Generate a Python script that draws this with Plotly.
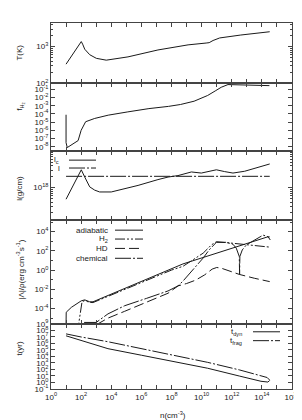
import plotly.graph_objects as go

# ---------------- data (log10 values) ----------------
# panel 1: temperature
T_logn = [1.0, 1.5, 1.9, 2.01, 2.1, 2.24, 2.57, 3.01, 3.67, 5.11, 7.1, 7.77, 9.1, 10.3, 10.5, 10.76, 11.2, 12.6, 14.52]
T_logT = [2.52, 2.83, 3.08, 3.14, 3.07, 2.93, 2.78, 2.68, 2.63, 2.72, 2.91, 2.96, 3.05, 3.10, 3.11, 3.17, 3.24, 3.32, 3.41]

# panel 2: H2 fraction
f_logn = [1.0, 1.0, 1.08, 1.8, 2.0, 2.3, 2.9, 3.8, 5.1, 6.5, 7.8, 8.6, 9.5, 10.0, 10.4, 10.9, 11.3, 11.75, 12.5, 13.5, 14.5]
f_logf = [-4.1, -7.5, -8.1, -7.25, -6.0, -4.95, -4.55, -4.15, -3.75, -3.35, -3.08, -2.85, -2.45, -2.1, -1.75, -1.2, -0.75, -0.42, -0.45, -0.5, -0.55]

# panel 3: lengths
lc_logn = [1.0, 1.5, 2.01, 2.24, 2.57, 2.9, 3.23, 4.0, 5.78, 7.1, 7.77, 8.43, 9.32, 9.98, 10.98, 11.53, 12.08, 12.86, 13.75, 14.52]
lc_log = [17.68, 18.08, 18.49, 18.29, 18.02, 17.93, 17.88, 17.88, 18.06, 18.22, 18.29, 18.33, 18.43, 18.40, 18.49, 18.44, 18.40, 18.45, 18.56, 18.65]
l_logn = [1.0, 14.52]
l_log = [18.31, 18.31]

# panel 4: heating / cooling rates
ad_logn = [1.0, 1.01, 1.35, 1.79, 2.01, 2.24, 2.57, 2.79, 6.33, 8.76, 14.41, 14.52]
ad_log = [-5.7, -4.39, -3.88, -3.44, -3.2, -3.1, -3.3, -3.3, -0.97, 0.64, 3.47, 3.45]
h2_logn = [1.75, 2.06, 2.24, 2.57, 2.79, 6.33, 8.0, 8.76, 9.65, 10.1, 10.65, 10.98, 12.08, 13.19, 14.52]
h2_log = [-6.5, -3.3, -3.17, -3.37, -3.38, -1.05, 0.0, 0.39, 1.25, 1.76, 2.62, 2.95, 2.79, 2.62, 2.39]
hd_logn = [3.0, 3.78, 4.89, 6.33, 7.77, 8.43, 9.0, 9.6, 10.2, 10.7, 11.0, 11.3, 12.5, 13.5, 14.52]
hd_log = [-5.7, -5.0, -4.29, -3.36, -2.41, -1.65, -1.4, -1.05, -0.5, 0.1, 0.27, 0.2, -0.45, -0.85, -1.2]
ch_logn = [2.2, 3.0, 3.78, 4.89, 6.33, 7.77, 8.43, 8.76, 10.1, 10.5, 10.98, 11.65, 12.08, 12.3, 12.5, 12.52, 12.54, 12.7, 12.97, 14.08, 14.41, 14.56]
ch_log = [-5.45, -5.45, -4.56, -3.71, -2.95, -2.17, -1.65, -1.15, 1.25, 2.1, 2.89, 2.89, 2.69, 2.28, 1.42, -0.45, 1.42, 2.1, 2.62, 3.64, 3.47, 3.13]

# panel 5: time scales
tdyn_logn = [1.0, 2.0, 3.0, 3.78, 6.0, 8.0, 10.4, 12.5, 13.94, 14.4, 14.52]
tdyn_log = [7.18, 6.45, 5.75, 5.2, 4.19, 3.28, 2.18, 0.98, 0.17, 0.05, 0.3]
tfrag_logn = [1.0, 2.0, 3.78, 6.0, 8.0, 10.4, 12.5, 13.94, 14.35, 14.52]
tfrag_log = [7.48, 7.0, 6.27, 5.2, 4.25, 3.09, 1.93, 0.95, 0.75, 0.35]

x_tick_exp = list(range(0, 17))


def p(a):
    return [10.0 ** v for v in a]


def sup(e):
    return "10<sup>%d</sup>" % e


# ---------------- layout geometry (pixels) ----------------
W, H = 302, 420
PL, PR, PT, PB = 43, 284, 10, 381
panels = [(10, 71), (71, 140), (140, 210), (210, 315), (315, 381)]
PH = PB - PT


def ydom(top, bot):
    return [(PB - bot) / PH, (PB - top) / PH]


INK = "#1a1a1a"
AX = "#444444"
FONT = "Liberation Sans, Arial, sans-serif"

fig = go.Figure()


def add(k, xs, ys, dash="solid"):
    fig.add_trace(go.Scatter(x=p(xs), y=p(ys), mode="lines",
                             line=dict(color=INK, width=1, dash=dash),
                             xaxis="x" if k == 1 else "x%d" % k,
                             yaxis="y" if k == 1 else "y%d" % k,
                             hoverinfo="skip"))


DD = "16px,2px,2px,2px"
DDD = "10px,2px,2px,2px,2px,2px"
LD = "10px,4px"

add(1, T_logn, T_logT)
add(2, f_logn, f_logf)
add(3, lc_logn, lc_log)
add(3, l_logn, l_log, DD)
add(4, ad_logn, ad_log)
add(4, h2_logn, h2_log, DDD)
add(4, hd_logn, hd_log, LD)
add(4, ch_logn, ch_log, DD)
add(5, tdyn_logn, tdyn_log)
add(5, tfrag_logn, tfrag_log, DD)

# y-axis specs: range (log), major exps, minor values
yspecs = [
    ([1.998, 3.65], [2, 3], [m * 10 ** e for e in (2, 3) for m in range(2, 10) if m * 10 ** e < 4500]),
    ([-8.55, -0.25], list(range(-8, 0)), []),
    ([17.1, 19.0], [18], [m * 10 ** e for e in (17, 18) for m in range(2, 10)]),
    ([-5.6, 5.18], [-4, -2, 0, 2, 4], [10.0 ** e for e in (-5, -3, -1, 1, 3, 5)]),
    ([-1.02, 9.02], list(range(-1, 10)), []),
]

lay = dict(width=W, height=H, autosize=False,
           margin=dict(l=PL, r=W - PR, t=PT, b=H - PB, pad=0),
           paper_bgcolor="white", plot_bgcolor="white", showlegend=False,
           font=dict(family=FONT, size=8, color=INK))

for k in range(1, 6):
    xs = "" if k == 1 else str(k)
    top, bot = panels[k - 1]
    yr, yt, ym = yspecs[k - 1]
    lay["xaxis" + xs] = dict(
        type="log", range=[0, 16], domain=[0, 1], anchor="y" + xs,
        tickmode="array", tickvals=[10.0 ** e for e in x_tick_exp],
        ticktext=[sup(e) if e % 2 == 0 else "" for e in x_tick_exp],
        showticklabels=(k == 5), ticks="inside", ticklen=4, tickcolor=AX, tickwidth=1,
        showline=True, linecolor=AX, linewidth=1, mirror="allticks",
        showgrid=False, zeroline=False, tickfont=dict(size=8, family=FONT, color=INK),
        **({} if k == 1 else {"matches": "x"}))
    ydict = dict(
        type="log", range=yr, domain=ydom(top, bot), anchor="x" + xs,
        tickmode="array", tickvals=[10.0 ** e for e in yt], ticktext=[sup(e) for e in yt],
        ticks="inside", ticklen=4, tickcolor=AX, tickwidth=1,
        showline=True, linecolor=AX, linewidth=1, mirror="allticks",
        showgrid=False, zeroline=False, tickfont=dict(size=8, family=FONT, color=INK))
    if ym:
        ydict["minor"] = dict(tickmode="array", tickvals=ym, ticks="inside", ticklen=2,
                              tickcolor=AX, showgrid=False)
    lay["yaxis" + xs] = ydict

fig.update_layout(**lay)


def xd(px):
    return (px - PL) / (PR - PL)


def yd(k, py):
    top, bot = panels[k - 1]
    return (bot - py) / (bot - top)


def ref(k):
    return ("x" if k == 1 else "x%d" % k) + " domain", ("y" if k == 1 else "y%d" % k) + " domain"


def leg(k, text, tx, py, x0, x1, dash):
    xr, yr_ = ref(k)
    fig.add_annotation(xref=xr, yref=yr_, x=xd(tx), y=yd(k, py), text=text, showarrow=False,
                       xanchor="right", yanchor="middle", font=dict(size=8, family=FONT, color=INK))
    fig.add_shape(type="line", xref=xr, yref=yr_, x0=xd(x0), x1=xd(x1), y0=yd(k, py), y1=yd(k, py),
                  line=dict(color=INK, width=1, dash=dash))


leg(3, "l<sub>c</sub>", 53, 149, 61, 88, "solid")
leg(3, "l", 54, 157, 61, 88, DD)
leg(4, "adiabatic", 102, 220, 107, 135, "solid")
leg(4, "H<sub>2</sub>", 102, 229, 107, 135, DDD)
leg(4, "HD", 102, 238.5, 107, 135, LD)
leg(4, "chemical", 102, 248.5, 107, 135, DD)
leg(5, "t<sub>dyn</sub>", 236, 323, 245, 272, "solid")
leg(5, "t<sub>frag</sub>", 236, 332, 245, 272, DD)


# axis titles
def ytitle(text, py):
    fig.add_annotation(xref="paper", yref="paper", x=(12 - PL) / (PR - PL), y=(PB - py) / PH,
                       text=text, textangle=-90, showarrow=False, xanchor="center", yanchor="middle",
                       font=dict(size=8, family=FONT, color=INK))


ytitle("T(K)", 40)
ytitle("f<sub>H₂</sub>", 95)
ytitle("l(g/cm)", 178)
ytitle("|Λ|/ρ(erg cm<sup>-3</sup>s<sup>-1</sup>)", 260)
ytitle("t(yr)", 340)

fig.add_annotation(xref="paper", yref="paper", x=xd(165), y=(PB - 407) / PH, text="n(cm<sup>-3</sup>)",
                   showarrow=False, xanchor="center", yanchor="middle",
                   font=dict(size=8, family=FONT, color=INK))

fig.write_html("out.html")
